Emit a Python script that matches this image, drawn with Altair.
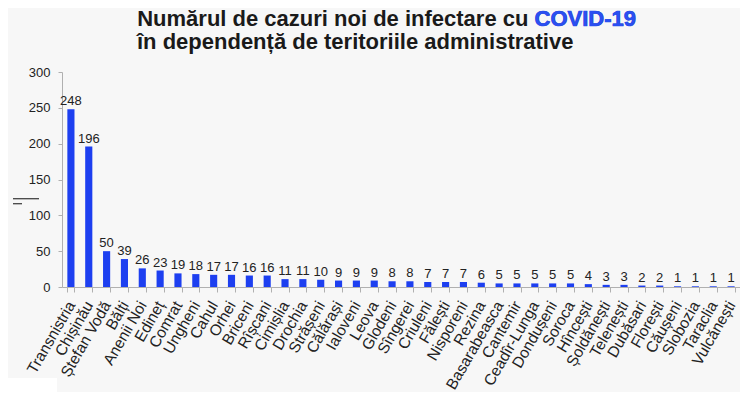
import altair as alt
import pandas as pd

regions = ["Transnistria", "Chișinău", "Ștefan Vodă", "Bălți", "Anenii Noi", "Edineț",
           "Comrat", "Ungheni", "Cahul", "Orhei", "Briceni", "Rîșcani", "Cimișlia",
           "Drochia", "Strășeni", "Călărași", "Ialoveni", "Leova", "Glodeni", "Sîngerei",
           "Criuleni", "Fălești", "Nisporeni", "Rezina", "Basarabeasca", "Cantemir",
           "Ceadîr-Lunga", "Dondușeni", "Soroca", "Hîncești", "Șoldănești", "Telenești",
           "Dubăsari", "Florești", "Căușeni", "Slobozia", "Taraclia", "Vulcănești"]
cases = [248, 196, 50, 39, 26, 23, 19, 18, 17, 17, 16, 16, 11, 11, 10, 9, 9, 9, 8, 8,
         7, 7, 7, 6, 5, 5, 5, 5, 5, 4, 3, 3, 2, 2, 1, 1, 1, 1]
y_ticks = [0, 50, 100, 150, 200, 250, 300]

title_line1 = "Numărul de cazuri noi de infectare cu COVID-19"
title_highlight = "COVID-19"
title_line2 = "în dependență de teritoriile administrative"

df = pd.DataFrame({"region": regions, "cases": cases})

FONT = "Liberation Sans"
TITLE_FONT = "Liberation Sans"
TITLE_SIZE = 22
BAR = "#1d3ff0"

x = alt.X("region:N", sort=regions, title=None,
          scale=alt.Scale(paddingInner=0.6, paddingOuter=0.3),
          axis=alt.Axis(labelAngle=-60, labelAlign="right", labelBaseline="middle",
                        labelFontSize=15.5, labelColor="#222", labelFont=FONT,
                        labelPadding=10, tickBand="extent", tickSize=5,
                        tickColor="#b0b0b0", domainColor="#b0b0b0", labelOverlap=False))
y = alt.Y("cases:Q", title=None,
          scale=alt.Scale(domain=[0, 300], nice=False),
          axis=alt.Axis(values=y_ticks, grid=False, labelFontSize=13, labelColor="#222",
                        labelFont=FONT, tickSize=4, labelPadding=8,
                        tickColor="#b0b0b0", domainColor="#b0b0b0"))

bars = alt.Chart(df).mark_bar(color=BAR).encode(x=x, y=y)
labels = alt.Chart(df).mark_text(baseline="alphabetic", dy=-4, fontSize=13, font=FONT,
                                 color="#222").encode(x=x, y=y, text="cases:Q")

tdf = pd.DataFrame({"t": [title_line1]})
t1 = alt.Chart(tdf).mark_text(align="right", baseline="alphabetic", fontSize=TITLE_SIZE,
                              fontWeight="bold", font=TITLE_FONT, color="#1a1a1a").encode(
    x=alt.value(574), y=alt.value(-46), text="t:N")
hdf = pd.DataFrame({"t": [title_highlight]})
t2 = alt.Chart(hdf).mark_text(align="right", baseline="alphabetic", fontSize=TITLE_SIZE,
                              fontWeight="bold", font=TITLE_FONT, color="#2a4ff2",
                              stroke="#2a4ff2", strokeWidth=0.6).encode(
    x=alt.value(574), y=alt.value(-46), text="t:N")
ldf = pd.DataFrame({"t": [title_line2]})
t3 = alt.Chart(ldf).mark_text(align="left", baseline="alphabetic", fontSize=TITLE_SIZE,
                              fontWeight="bold", font=TITLE_FONT, color="#1a1a1a").encode(
    x=alt.value(75), y=alt.value(-23), text="t:N")

# small stray strokes left of the y axis and the white patch in the lower-left corner
stroke1 = alt.Chart(tdf).mark_rule(color="#444", strokeWidth=1.3).encode(
    x=alt.value(-49), x2=alt.value(-23), y=alt.value(126.7))
stroke2 = alt.Chart(tdf).mark_rule(color="#444", strokeWidth=1.3).encode(
    x=alt.value(-49), x2=alt.value(-40), y=alt.value(131.7))
patch = alt.Chart(tdf).mark_rect(color="white").encode(
    x=alt.value(-54), x2=alt.value(-5), y=alt.value(306), y2=alt.value(320))

chart = alt.layer(patch, bars, labels, t1, t2, t3, stroke1, stroke2).properties(
    width=678, height=215,
    autosize=alt.AutoSizeParams(type="none"),
    padding={"left": 54, "top": 64, "right": 0, "bottom": 105},
    background="#f7f7f7",
).configure_view(stroke=None)

chart.save("out.html", embed_options={"renderer": "svg", "actions": False})
